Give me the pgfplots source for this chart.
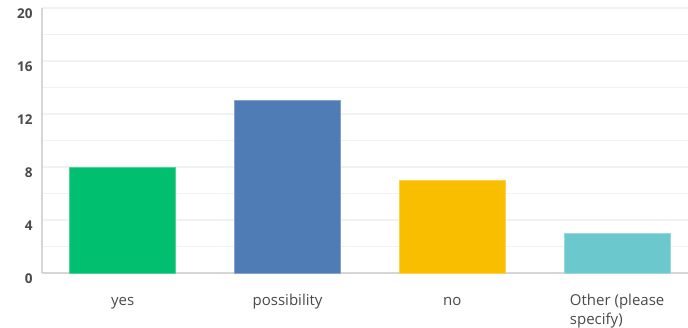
\documentclass[border=0pt]{standalone}
\usepackage{pgfplots}
\pgfplotsset{compat=1.18}
\usepackage{fontspec}
\setmainfont{Open Sans}
\definecolor{cgreen}{HTML}{00BF6F}
\definecolor{cblue}{HTML}{507CB6}
\definecolor{cyellow}{HTML}{F9BE00}
\definecolor{cteal}{HTML}{6BC8CD}
\definecolor{gridc}{HTML}{F2F2F2}
\definecolor{axc}{HTML}{D6D6D6}
\definecolor{txt}{HTML}{4A4A4A}
\begin{document}
\begin{tikzpicture}
\useasboundingbox (-42pt,-54pt) rectangle (646pt,273pt);
\begin{axis}[
  at={(0pt,0pt)}, anchor=south west,
  scale only axis, width=646pt, height=265pt,
  xmin=-0.49, xmax=3.43, ymin=0, ymax=20,
  axis x line*=bottom, axis y line*=left,
  axis line style={draw=axc, line width=1.2pt, -},
  xtick={0,1,2,3},
  xticklabels={\rule{0pt}{12pt}yes,\rule{0pt}{12pt}possibility,\rule{0pt}{12pt}no,{\rule{0pt}{12pt}Other (please\\specify)}},
  xticklabel style={align=left, font=\fontsize{15}{19}\selectfont, text=txt, anchor=north, yshift=-16.5pt},
  ytick={0,4,8,12,16,20},
  minor ytick={2,6,10,14,18},
  yticklabel style={font=\fontsize{13.5}{15}\selectfont\bfseries, text=txt, xshift=-6pt, yshift=-6pt},
  major tick length=0pt, minor tick length=0pt,
  ymajorgrids, yminorgrids,
  major grid style={draw=gridc, line width=1.4pt},
  minor grid style={draw=gridc, line width=1.4pt},
  ybar, bar width=106pt, bar shift=0pt,
  /pgf/number format/assume math mode=true,
]
\addplot[fill=cgreen, draw=cgreen!70!white, line width=0.6pt] coordinates {(0,8)};
\addplot[fill=cblue, draw=cblue!70!white, line width=0.6pt] coordinates {(1,13)};
\addplot[fill=cyellow, draw=cyellow!70!white, line width=0.6pt] coordinates {(2,7)};
\addplot[fill=cteal, draw=cteal!70!white, line width=0.6pt] coordinates {(3,3)};
\end{axis}
\end{tikzpicture}
\end{document}
